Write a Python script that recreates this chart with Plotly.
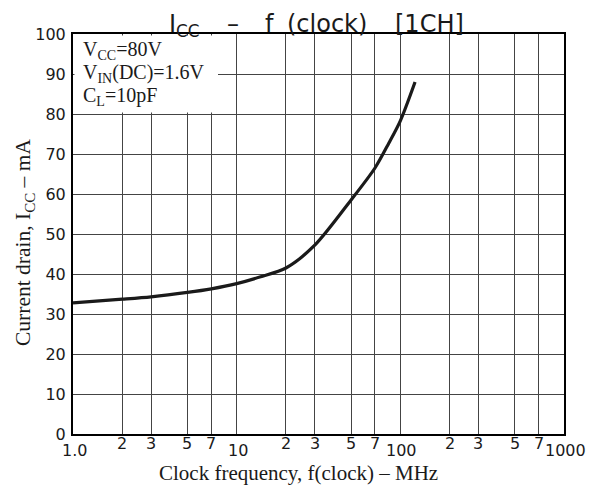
import math
import plotly.graph_objects as go

# ---- data ----
freq_mhz = [1, 2, 3, 5, 7, 10, 14, 20, 30, 50, 70, 85, 100, 123]
icc_ma = [32.8, 33.7, 34.3, 35.4, 36.3, 37.6, 39.3, 41.5, 47.2, 58.5, 66.5, 72.7, 78.3, 88.0]

x_grid_mantissas = [1, 2, 3, 5, 7]
x_decades = [1, 10, 100]
x_major_vals = [1, 10, 100, 1000]
x_major_labels = ["1.0", "10", "100", "1000"]
x_minor_mantissas = [2, 3, 5, 7]
y_tick_vals = list(range(0, 101, 10))

title_parts = ["I<sub>CC</sub>", "–", "f", "(clock)", "[1CH]"]
condition_lines = ["V<sub>CC</sub>=80V", "V<sub>IN</sub>(DC)=1.6V", "C<sub>L</sub>=10pF"]
x_title = "Clock frequency, f(clock) – MHz"
y_title = "Current drain, I<sub>CC</sub> – mA"

# ---- geometry (screen pixels; page body has an 8px default margin) ----
WIN_W, WIN_H = 597, 487
BODY = 8
W, H = WIN_W - BODY, WIN_H - BODY
PX0, PX1 = 73, 564      # plot area left/right on screen
PY0, PY1 = 34, 434      # plot area top/bottom on screen
L, R = PX0 - BODY, W - (PX1 - BODY)
T, B = PY0 - BODY, H - (PY1 - BODY)


def px_x(p):
    return (p - PX0) / (PX1 - PX0)


def px_y(p):
    return (PY1 - p) / (PY1 - PY0)


x_grid = [m * d for d in x_decades for m in x_grid_mantissas] + [1000]

SANS = "DejaVu Sans"
SERIF = "Liberation Serif"
INK = "#1a1a1a"

fig = go.Figure()
fig.add_trace(go.Scatter(
    x=freq_mhz, y=icc_ma, mode="lines",
    line=dict(color=INK, width=3.2, shape="spline", smoothing=0.8),
    hoverinfo="skip", showlegend=False,
))

fig.update_layout(
    width=W, height=H,
    margin=dict(l=L, r=R, t=T, b=B, pad=0),
    paper_bgcolor="white", plot_bgcolor="white",
    showlegend=False,
    xaxis=dict(
        type="log", range=[0, 3],
        tickmode="array", tickvals=x_grid,
        showticklabels=False, ticks="",
        showgrid=True, gridcolor="#444", gridwidth=1.2,
        showline=True, linecolor="black", linewidth=2, mirror=True,
        zeroline=False, fixedrange=True,
    ),
    yaxis=dict(
        range=[0, 100], tickmode="array", tickvals=y_tick_vals,
        ticks="", ticklabelstandoff=2,
        tickfont=dict(family=SANS, size=16, color=INK),
        showgrid=True, gridcolor="#444", gridwidth=1.2,
        showline=True, linecolor="black", linewidth=2, mirror=True,
        zeroline=False, fixedrange=True,
    ),
)

# white box behind the operating conditions
fig.add_shape(type="rect", xref="paper", yref="y",
              x0=0.003, x1=px_x(218), y0=80.35, y1=99.6,
              fillcolor="white", line=dict(width=0), layer="above")

ann = []
# title pieces (left x in pixels, anchor)
title_pos = [(167, "left"), (232.5, "center"), (263, "left"), (285, "left"), (393, "left")]
for txt, (xp, anc) in zip(title_parts, title_pos):
    ann.append(dict(text=txt, xref="paper", yref="paper", x=px_x(xp), y=px_y(8),
                    xanchor=anc, yanchor="top", showarrow=False,
                    font=dict(family=SANS, size=24, color=INK)))

# conditions
for i, line in enumerate(condition_lines):
    ann.append(dict(text=line, xref="paper", yref="paper", x=px_x(81), y=px_y(36.5 + 22.5 * i),
                    xanchor="left", yanchor="top", showarrow=False,
                    font=dict(family=SERIF, size=20, color=INK)))

# x tick labels
for v, lab in zip(x_major_vals, x_major_labels):
    ann.append(dict(text=lab, xref="x", yref="paper", x=math.log10(v), y=0,
                    xanchor="center", yanchor="top", xshift=1.5, yshift=-5, showarrow=False,
                    font=dict(family=SANS, size=16, color=INK)))
for d in x_decades:
    for m in x_minor_mantissas:
        ann.append(dict(text=str(m), xref="x", yref="paper", x=math.log10(m * d), y=0,
                        xanchor="center", yanchor="top", yshift=2, showarrow=False,
                        font=dict(family=SANS, size=16, color=INK)))

# axis titles
ann.append(dict(text=x_title, xref="paper", yref="paper", x=px_x(298), y=px_y(473.5),
                xanchor="center", yanchor="middle", showarrow=False,
                font=dict(family=SERIF, size=21, color=INK)))
ann.append(dict(text=y_title, xref="paper", yref="paper", x=px_x(24), y=px_y(243),
                xanchor="center", yanchor="middle", textangle=-90, showarrow=False,
                font=dict(family=SERIF, size=21.5, color=INK)))

fig.update_layout(annotations=ann)
fig.write_html("out.html")
